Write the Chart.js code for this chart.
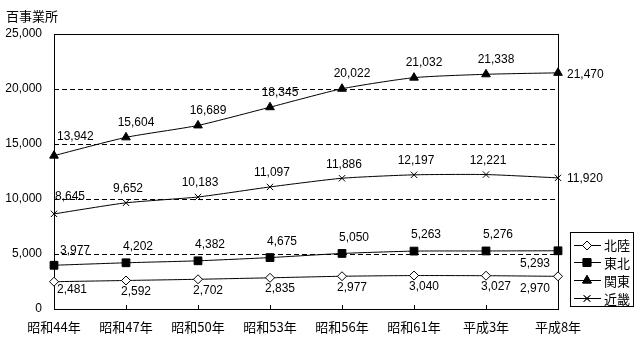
<!DOCTYPE html>
<html><head><meta charset="utf-8">
<script src="https://cdn.jsdelivr.net/npm/chart.js@4.4.0/dist/chart.umd.min.js"></script>
<style>html,body{margin:0;padding:0;background:#fff}#wrap{width:640px;height:339px;position:relative}</style>
</head><body><div id="wrap"><canvas id="c" width="640" height="339"></canvas></div>
<script>
const categories = ['昭和44年','昭和47年','昭和50年','昭和53年','昭和56年','昭和61年','平成3年','平成8年'];
const hokuriku = [2481,2592,2702,2835,2977,3040,3027,2970];
const tohoku = [3977,4202,4382,4675,5050,5263,5276,5293];
const kanto = [13942,15604,16689,18345,20022,21032,21338,21470];
const kinki = [8645,9652,10183,11097,11886,12197,12221,11920];
const seriesNames = ['北陸','東北','関東','近畿'];
const yMin = 0, yMax = 25000, yStep = 5000;
const unitLabel = '百事業所';

const NUM_FONT = '12px "Liberation Sans", Arial, sans-serif';
const JP_FONT = '"Noto Sans CJK JP", sans-serif';

// label placement styles per series: first / middle / last
const labelStyles = [
  {first:{dx:3,dy:8,align:'left'}, mid:{dx:10,dy:11,align:'center'}, last:{dx:-8,dy:12,align:'right'}},
  {first:{dx:6,dy:-15,align:'left'}, mid:{dx:12,dy:-16,align:'center'}, last:{dx:-8,dy:13,align:'right'}},
  {first:{dx:3,dy:-19,align:'left'}, mid:{dx:10,dy:-15,align:'center'}, last:{dx:9,dy:2,align:'left'}},
  {first:{dx:1,dy:-17,align:'left'}, mid:{dx:2,dy:-14,align:'center'}, last:{dx:9,dy:1,align:'left'}}
];

const fmt = v => v.toLocaleString('en-US');

const gridPlugin = {
  id: 'gridPlugin',
  beforeDatasetsDraw(chart) {
    const {ctx, chartArea: a, scales: {x, y}} = chart;
    ctx.save();
    ctx.strokeStyle = '#000';
    ctx.lineWidth = 1;
    ctx.setLineDash([5,3]);
    for (let v = yMin + yStep; v < yMax; v += yStep) {
      const py = Math.round(y.getPixelForValue(v)) + 0.5;
      ctx.beginPath(); ctx.moveTo(a.left, py); ctx.lineTo(a.right, py); ctx.stroke();
    }
    ctx.setLineDash([]);
    ctx.strokeRect(Math.round(a.left)+0.5, Math.round(a.top)+0.5, Math.round(a.right-a.left), Math.round(a.bottom-a.top));
    for (let i = 1; i < categories.length - 1; i++) {
      const px = Math.round(x.getPixelForTick(i)) + 0.5;
      ctx.beginPath(); ctx.moveTo(px, a.bottom); ctx.lineTo(px, a.bottom - 4); ctx.stroke();
    }
    ctx.fillStyle = '#000';
    ctx.font = '13px ' + JP_FONT;
    ctx.textAlign = 'left'; ctx.textBaseline = 'middle';
    ctx.fillText(unitLabel, 6, 16);
    ctx.restore();
  }
};

const labelPlugin = {
  id: 'labelPlugin',
  afterDatasetsDraw(chart) {
    const ctx = chart.ctx;
    ctx.save();
    ctx.font = NUM_FONT;
    ctx.fillStyle = '#000';
    ctx.textBaseline = 'middle';
    chart.data.datasets.forEach((ds, di) => {
      const meta = chart.getDatasetMeta(di);
      const st = labelStyles[di];
      meta.data.forEach((pt, i) => {
        const s = i === 0 ? st.first : (i === meta.data.length - 1 ? st.last : st.mid);
        ctx.textAlign = s.align;
        ctx.fillText(fmt(ds.data[i]), pt.x + s.dx, pt.y + s.dy);
      });
    });
    ctx.restore();
  }
};

const legendPlugin = {
  id: 'legendPlugin',
  afterDraw(chart) {
    const ctx = chart.ctx;
    const bx = 570, by = 232, bw = 63, bh = 74;
    ctx.save();
    ctx.strokeStyle = '#000'; ctx.lineWidth = 1;
    ctx.strokeRect(bx + 0.5, by + 0.5, bw, bh);
    chart.data.datasets.forEach((ds, i) => {
      const ry = by + 12.5 + i * 17.8;
      ctx.beginPath(); ctx.moveTo(bx + 4, Math.round(ry) + 0.5); ctx.lineTo(bx + 31, Math.round(ry) + 0.5); ctx.stroke();
      Chart.helpers.drawPoint(ctx, {
        pointStyle: ds.pointStyle, radius: ds.pointRadius, rotation: 0, borderWidth: 1
      }, bx + 17, Math.round(ry) + 0.5);
      ctx.fillStyle = ds.pointBackgroundColor;
      ctx.strokeStyle = '#000';
      ctx.fill(); ctx.stroke();
      ctx.fillStyle = '#000';
      ctx.font = '13px ' + JP_FONT;
      ctx.textAlign = 'left'; ctx.textBaseline = 'middle';
      ctx.fillText(ds.label, bx + 34, ry + 1);
    });
    ctx.restore();
  }
};

const mk = (label, data, style, r, bg) => ({
  label, data,
  borderColor: '#000', borderWidth: 1,
  pointStyle: style, pointRadius: r, pointHoverRadius: r,
  pointBackgroundColor: bg, pointBorderColor: '#000', pointBorderWidth: 1,
  tension: 0.2, fill: false
});

new Chart(document.getElementById('c'), {
  type: 'line',
  data: {
    labels: categories,
    datasets: [
      mk(seriesNames[0], hokuriku, 'rectRot', 4.5, '#fff'),
      mk(seriesNames[1], tohoku, 'rect', 5.5, '#000'),
      mk(seriesNames[2], kanto, 'triangle', 5, '#000'),
      mk(seriesNames[3], kinki, 'crossRot', 4.5, '#000')
    ]
  },
  options: {
    responsive: false, animation: false, devicePixelRatio: 1,
    layout: {padding: {top: 34, right: 82, left: 0, bottom: 0}},
    plugins: {legend: {display: false}, tooltip: {enabled: false}},
    scales: {
      x: {
        offset: false,
        grid: {display: false, drawTicks: false},
        border: {display: false},
        ticks: {color: '#000', font: {family: JP_FONT, size: 13}, padding: 10, maxRotation: 0, autoSkip: false},
        afterFit: s => { s.height = 30; }
      },
      y: {
        min: yMin, max: yMax,
        grid: {display: false, drawTicks: false},
        border: {display: false},
        ticks: {stepSize: yStep, color: '#000', font: {family: '"Liberation Sans", Arial, sans-serif', size: 12}, padding: 12,
          callback: v => fmt(v)},
        afterFit: s => { s.width = 54; }
      }
    }
  },
  plugins: [gridPlugin, labelPlugin, legendPlugin]
});
</script></body></html>
